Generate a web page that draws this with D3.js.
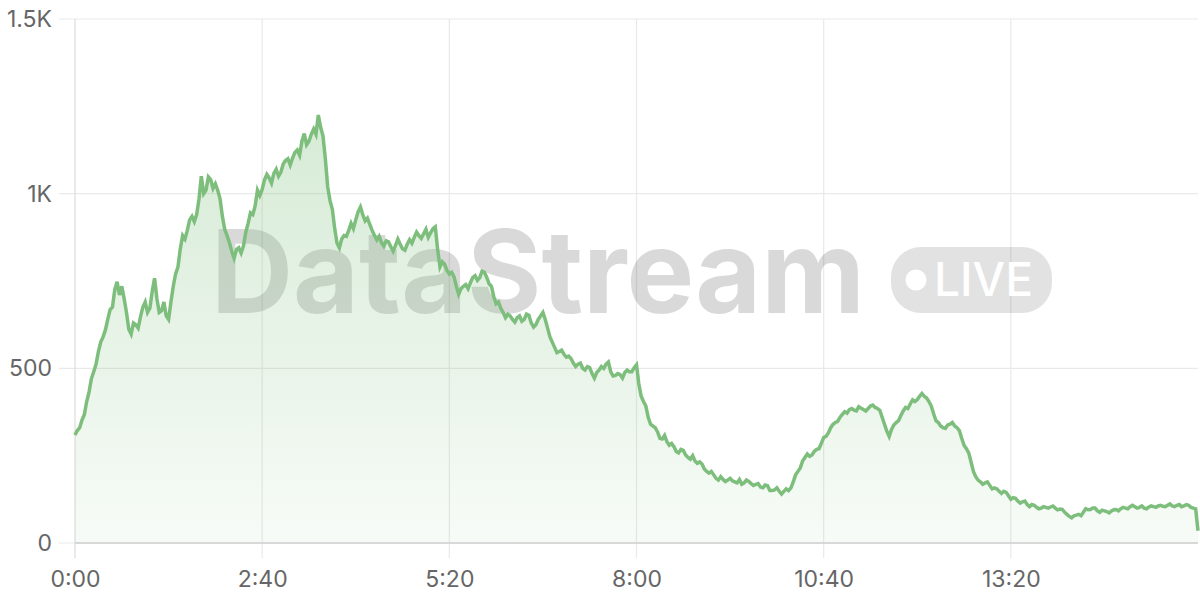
<!DOCTYPE html>
<html>
<head>
<meta charset="utf-8">
<script src="https://cdn.jsdelivr.net/npm/d3@7"></script>
<style>
  html, body { margin: 0; padding: 0; background: #fff; }
  svg { display: block; font-family: Inter, "Noto Sans", sans-serif; }
</style>
</head>
<body>
<svg id="chart" width="1200" height="600"></svg>
<script>
// time in seconds (step 2s)
const stepSeconds = 2;
const values = [
  309,322,330,352,368,405,432,470,490,512,548,575,590,610,640,668,675,725,748,710,735,700,660,612,598,630,625,615,648,675,690,660,672,720,758,700,660,665,690,650,
  640,690,735,770,790,842,880,870,895,925,935,920,940,985,1050,1000,1010,1048,1040,1015,1028,1010,985,935,898,880,860,835,815,840,845,830,850,890,915,945,940,965,1010,995,
  1012,1040,1055,1045,1030,1058,1070,1050,1062,1085,1095,1100,1082,1102,1118,1125,1110,1150,1172,1140,1150,1170,1185,1170,1225,1190,1165,1100,1020,980,955,900,858,845,870,880,878,895,915,900,
  925,948,962,940,922,930,912,895,880,868,878,860,850,865,862,848,835,852,870,855,842,838,855,868,858,875,890,880,872,885,898,875,888,900,905,840,790,805,798,780,
  770,775,762,735,712,728,735,740,728,745,760,765,752,760,778,775,760,742,735,705,685,690,672,660,645,655,650,640,632,645,650,635,640,655,652,630,618,625,640,650,
  660,640,615,590,575,560,545,548,552,540,532,535,528,515,505,512,515,500,495,505,502,485,472,488,495,505,500,512,518,490,478,480,485,482,472,488,495,490,490,502,
  510,455,420,405,392,360,340,335,330,318,300,298,308,290,280,285,276,262,258,268,265,252,245,240,250,235,228,232,226,212,205,200,205,195,185,180,190,182,176,180,
  185,178,175,172,182,168,172,180,176,170,165,168,170,160,158,166,164,150,150,152,158,148,140,148,155,150,158,175,195,205,215,235,245,255,248,252,262,268,270,285,
  302,305,315,330,340,345,348,360,368,376,372,382,385,380,378,390,386,382,378,385,392,395,388,385,380,360,340,320,305,325,338,345,350,365,378,388,385,398,410,405,
  410,420,428,420,415,405,392,370,350,345,335,330,328,338,340,345,335,330,322,300,280,270,258,232,205,190,180,175,168,172,175,165,155,158,155,148,142,148,145,135,
  125,130,128,120,114,118,120,110,104,110,108,102,98,100,104,102,100,103,106,100,95,97,96,88,82,76,72,78,80,82,78,88,98,95,96,100,100,92,88,94,
  92,90,86,92,95,96,92,98,102,100,98,104,108,104,100,102,106,100,98,103,106,104,102,106,108,105,104,108,112,106,104,108,110,104,106,110,108,102,100,98,
  35
];
const yTicks = [0, 500, 1000, 1500];
const yTickLabels = ["0", "500", "1K", "1.5K"];
const xTicks = [0, 160, 320, 480, 640, 800];
const xTickLabels = ["0:00", "2:40", "5:20", "8:00", "10:40", "13:20"];
const watermarkText = "DataStream";
const badgeText = "LIVE";

const data = values.map((v, i) => ({ t: i * stepSeconds, v }));

const svg = d3.select("#chart");
const W = 1200, H = 600;
const m = { left: 75, right: 2, top: 19, bottom: 57 };
const x = d3.scaleLinear().domain([0, 960]).range([m.left, W - m.right]);
const y = d3.scaleLinear().domain([0, 1500]).range([H - m.bottom, m.top]);

const green = "#7dbe7d";

// defs
const defs = svg.append("defs");
const grad = defs.append("linearGradient").attr("id", "areaGrad")
  .attr("gradientUnits", "userSpaceOnUse")
  .attr("x1", 0).attr("x2", 0).attr("y1", y(1250)).attr("y2", y(0));
grad.append("stop").attr("offset", 0).attr("stop-color", green).attr("stop-opacity", 0.32);
grad.append("stop").attr("offset", 1).attr("stop-color", green).attr("stop-opacity", 0.06);

// grid
const grid = svg.append("g");
grid.selectAll("line.h").data(yTicks).join("line")
  .attr("x1", m.left - 16).attr("x2", W - m.right)
  .attr("y1", d => y(d)).attr("y2", d => y(d))
  .attr("stroke", "#e9e9e9").attr("stroke-width", 1.2);
grid.selectAll("line.v").data(xTicks).join("line")
  .attr("x1", d => x(d)).attr("x2", d => x(d))
  .attr("y1", m.top).attr("y2", y(0) + 15)
  .attr("stroke", d => d === 0 ? "#dcdcdc" : "#e9e9e9").attr("stroke-width", 1.2);

// watermark
const wm = svg.append("g");
wm.append("text")
  .attr("x", 211).attr("y", 313)
  .attr("font-size", 115).attr("font-weight", 700)
  .attr("textLength", 654).attr("lengthAdjust", "spacingAndGlyphs")
  .attr("fill", "#000").attr("fill-opacity", 0.15)
  .text(watermarkText);
wm.append("rect")
  .attr("x", 891).attr("y", 247).attr("width", 161).attr("height", 66)
  .attr("rx", 30).attr("fill", "#000").attr("fill-opacity", 0.115);
wm.append("circle").attr("cx", 916).attr("cy", 280).attr("r", 10.5).attr("fill", "#fff");
wm.append("text")
  .attr("x", 934).attr("y", 296)
  .attr("font-size", 46).attr("font-weight", 500)
  .attr("textLength", 99).attr("lengthAdjust", "spacingAndGlyphs")
  .attr("fill", "#fff")
  .text(badgeText);

// area + line
const area = d3.area().x(d => x(d.t)).y0(y(0)).y1(d => y(d.v));
const line = d3.line().x(d => x(d.t)).y(d => y(d.v));
svg.append("path").datum(data).attr("d", area).attr("fill", "url(#areaGrad)");
svg.append("path").datum(data).attr("d", line)
  .attr("fill", "none").attr("stroke", green).attr("stroke-width", 3.5)
  .attr("stroke-linejoin", "miter").attr("stroke-miterlimit", 4);

// axes
const yAxis = d3.axisLeft(y).tickValues(yTicks)
  .tickFormat((d, i) => yTickLabels[i]).tickSize(0).tickPadding(23);
const gy = svg.append("g").attr("transform", `translate(${m.left},0)`).call(yAxis);
gy.select(".domain").remove();
gy.selectAll("text").attr("font-size", 23).attr("fill", "#666").attr("font-family", "Inter, sans-serif");

const xAxis = d3.axisBottom(x).tickValues(xTicks)
  .tickFormat((d, i) => xTickLabels[i]).tickSize(0).tickPadding(28);
const gx = svg.append("g").attr("transform", `translate(0,${y(0)})`).call(xAxis);
gx.select(".domain").remove();
gx.selectAll("text").attr("font-size", 23).attr("fill", "#666").attr("font-family", "Inter, sans-serif");

// baseline
svg.append("line").attr("x1", m.left).attr("x2", W - m.right)
  .attr("y1", y(0)).attr("y2", y(0)).attr("stroke", "#cfcfcf").attr("stroke-width", 1.5);
</script>
</body>
</html>
